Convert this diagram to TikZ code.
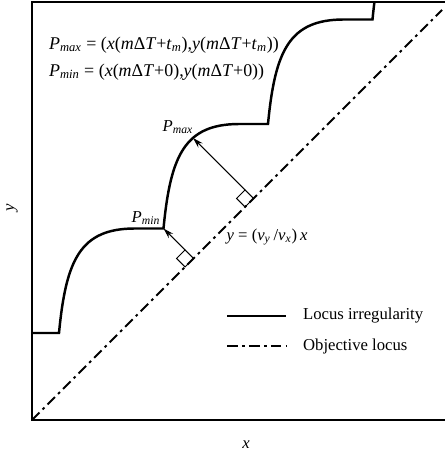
\documentclass[tikz,border=0pt]{standalone}
\usepackage{fontspec}
\setmainfont{Liberation Serif}
\usetikzlibrary{arrows.meta,calc}
\newcommand{\iv}[1]{\textit{#1}}
\newcommand{\isub}[2]{\textit{#1}\textsubscript{\textit{#2}}}
\tikzset{
  locus/.style={line width=1.4pt},
  objlocus/.style={line width=1.2pt, dash pattern=on 6pt off 2.5pt on 1.5pt off 2.5pt},
  perparrow/.style={-{Stealth[length=6pt,width=3.5pt]}, line width=0.6pt},
  rightmark/.style={line width=0.6pt},
  lbl/.style={font=\fontsize{9.5}{11}\selectfont, inner sep=1pt},
  deflbl/.style={font=\fontsize{10.2}{12}\selectfont, inner sep=1pt, anchor=west},
}

\begin{document}
\begin{tikzpicture}
  \useasboundingbox (-0.64,-0.70) rectangle (8.26,8.40);
  % frame
  \draw[line width=0.9pt] (8.26,8.36) -- (0,8.36) -- (0,0) -- (8.26,0);
  % objective locus
  \draw[objlocus] (0,0) -- (8.2,8.2);
  % locus irregularity
  \begin{scope}
    \clip (0,0) rectangle (8.26,8.36);
    \draw[locus] (0,1.74) -- ++(0.54,0)
      \foreach \i in {1,...,4}{ .. controls +(0.14,1.46) and +(-1.10,0) .. ++(1.52,2.09) -- ++(0.57,0) };
  \end{scope}
  \coordinate (pmin) at (2.63,3.83);
  \coordinate (pmax) at (3.22,5.64);
  \coordinate (pminfoot) at (3.23,3.23);
  \coordinate (pmaxfoot) at (4.43,4.43);
  % right angle marks and normals
  \draw[rightmark] (pminfoot) -- ++(-0.17,0.17) coordinate (pmintail) -- ++(-0.17,-0.17) -- ++(0.17,-0.17) -- cycle;
  \draw[rightmark] (pmaxfoot) -- ++(-0.17,0.17) coordinate (pmaxtail) -- ++(-0.17,-0.17) -- ++(0.17,-0.17) -- cycle;
  \draw[perparrow] (pmintail) -- (pmin);
  \draw[perparrow] (pmaxtail) -- (pmax);
  % labels
  \node[deflbl] (pmaxdef) at (0.30,7.50) {\isub{P}{max} = (\iv{x}(\iv{m}Δ\iv{T}+\isub{t}{m}),\iv{y}(\iv{m}Δ\iv{T}+\isub{t}{m}))};
  \node[deflbl] (pmindef) at (0.30,6.96) {\isub{P}{min} = (\iv{x}(\iv{m}Δ\iv{T}+0),\iv{y}(\iv{m}Δ\iv{T}+0))};
  \node[lbl] (pmaxlbl) at (2.92,5.86) {\isub{P}{max}};
  \node[lbl] (pminlbl) at (2.28,4.04) {\isub{P}{min}};
  \node[lbl] (objlbl) at (4.70,3.66) {\iv{y} = (\isub{v}{y}\,/\isub{v}{x})\,\iv{x}};
  \node[lbl] (xlbl) at (4.28,-0.50) {\iv{x}};
  \node[lbl, rotate=90] (ylbl) at (-0.40,4.24) {\iv{y}};
  % legend
  \node[lbl, anchor=west] (leglocus) at (5.38,2.08) {Locus irregularity};
  \node[lbl, anchor=west] (legobj) at (5.38,1.48) {Objective locus};
  \draw[locus] (3.90,2.08) -- (5.08,2.08);
  \draw[objlocus] (3.90,1.48) -- (5.08,1.48);
\end{tikzpicture}
\end{document}
